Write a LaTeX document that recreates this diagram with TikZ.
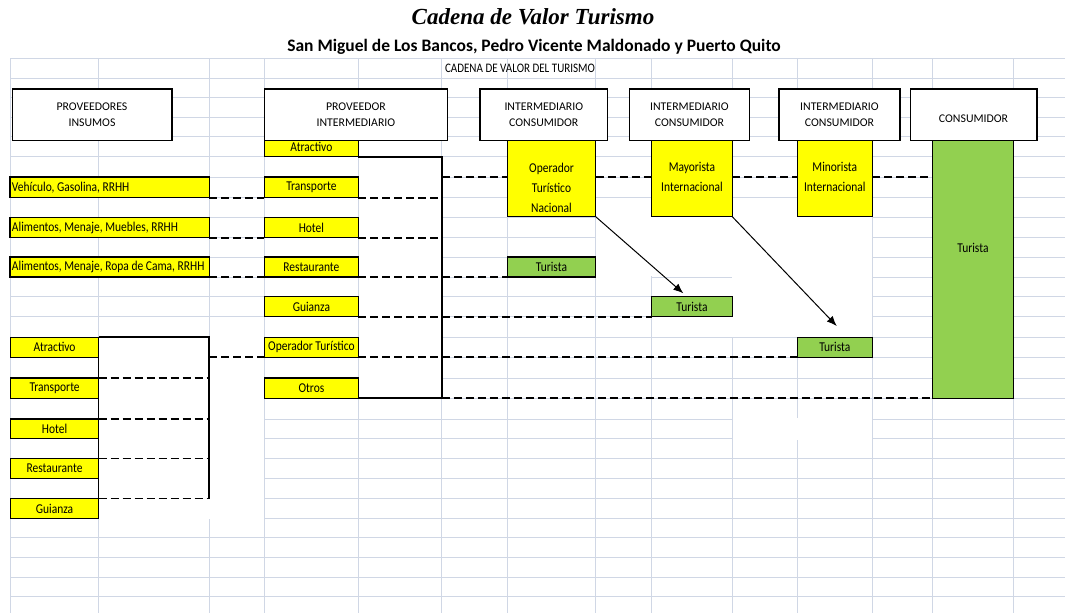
\documentclass[tikz,border=0pt]{standalone}
\usepackage{fontspec}
\setmainfont{Carlito}
\newfontfamily\fuenteCelda{Carlito}[FakeStretch=0.85]
\newfontfamily\fuenteTitulo{Liberation Serif}
\usetikzlibrary{arrows.meta,calc}
\tikzset{>=latex}
\definecolor{gris}{HTML}{D0D7E5}
\definecolor{amarillo}{HTML}{FFFF00}
\definecolor{verde}{HTML}{92D050}
\tikzset{
  cuadro/.style={draw=gris, line width=0.9pt},
  encabezado/.style={draw=black, line width=1.6pt, fill=white, inner sep=0pt, outer sep=0pt, anchor=north west, align=center, font=\fontsize{11.8}{16.5}\selectfont},
  celda/.style={draw=black, line width=1.2pt, fill=amarillo, inner sep=0pt, outer sep=0pt, anchor=north west, align=center, font=\fuenteCelda\fontsize{13.5}{20}\selectfont},
  celdaizq/.style={celda, text width=#1, align=flush left, inner xsep=2pt, font={\fuenteCelda\fontsize{13.5}{20}\selectfont\spaceskip 2.6pt plus 1pt minus 0.5pt\relax}},
  turista/.style={celda, fill=verde},
  texto/.style={inner sep=0pt, align=center, font=\fuenteCelda\fontsize{13.5}{20}\selectfont},
  enlace/.style={line width=1.7pt, dash pattern=on 8pt off 4pt},
  llave/.style={line width=2pt},
  flecha/.style={line width=1pt, -{Latex[length=10pt,width=8pt]}},
}

\begin{document}
\begin{tikzpicture}[x=1pt,y=-1pt]
    % Draw the sheet and its grid
    \fill[white] (0,0) rectangle (1065,613);
    \useasboundingbox (0,0) rectangle (1065,613);
    \foreach \y in {58.3,78.3,97.8,117.2,136.5,156.7,177,197.7,217.7,237.7,257,277,296.7,316.7,337.3,357.3,378,398.3,419,438.7,458.5,478.5,498.5,518.5,537.3,557.3,577.3,596.7}
        \draw[cuadro] (10,\y) -- (1065,\y);
    \foreach \x in {10,98.5,209.4,264.4,358.4,441.7,507.3,595.7,651.6,732.3,797.3,872.4,932.7,1013.3}
        \draw[cuadro] (\x,58.3) -- (\x,613);
    % Blank cells without grid
    \fill[white] (359.2,140) rectangle (441,397.6);
    \fill[white] (99.2,337) rectangle (264,519.3);
    \fill[white] (596.4,217.3) rectangle (731.6,276.4);
    \fill[white] (596.4,276) rectangle (651,296.3);
    \fill[white] (731.6,217.3) rectangle (871.8,336.9);
    \fill[white] (733,418.2) rectangle (871.8,439.5);

    % Titles
    \node[font=\fuenteTitulo\bfseries\itshape\fontsize{23}{28}\selectfont] (titulo) at (533,17) {Cadena de Valor Turismo};
    \node[font=\bfseries\fontsize{17.5}{21}\selectfont] (subtitulo) at (534,47) {San Miguel de Los Bancos, Pedro Vicente Maldonado y Puerto Quito};
    \node[texto, font=\fuenteCelda\fontsize{13}{15}\selectfont] (cadena) at (520,68.5) {CADENA DE VALOR DEL TURISMO};

    % Draw the yellow cells
    \node[celdaizq=195.4pt, minimum height=20.7pt] (vehic) at (10,177) {Vehículo, Gasolina, RRHH};
    \node[celdaizq=195.4pt, minimum height=20pt] (muebl) at (10,217.7) {Alimentos, Menaje, Muebles, RRHH};
    \node[celdaizq=195.4pt, minimum height=20pt] (ropa) at (10,257) {Alimentos, Menaje, Ropa de Cama, RRHH};

    \node[celda, minimum width=94pt, minimum height=20.2pt] (atrM) at (264.4,136.5) {Atractivo};
    \node[celda, minimum width=94pt, minimum height=20.7pt] (traM) at (264.4,177) {Transporte};
    \node[celda, minimum width=94pt, minimum height=20pt] (hotM) at (264.4,217.7) {Hotel};
    \node[celda, minimum width=94pt, minimum height=20pt] (resM) at (264.4,257) {Restaurante};
    \node[celda, minimum width=94pt, minimum height=20pt] (guiM) at (264.4,296.7) {Guianza};
    \node[celda, minimum width=94pt, minimum height=20pt] (opeM) at (264.4,337.3) {Operador Turístico};
    \node[celda, minimum width=94pt, minimum height=20.3pt] (otrM) at (264.4,378) {Otros};

    \node[celda, minimum width=88.2pt, minimum height=20pt] (atrL) at (10.5,337.3) {Atractivo};
    \node[celda, minimum width=88.2pt, minimum height=20.3pt] (traL) at (10.5,378) {Transporte};
    \node[celda, minimum width=88.2pt, minimum height=19.7pt] (hotL) at (10.5,419) {Hotel};
    \node[celda, minimum width=88.2pt, minimum height=20pt] (resL) at (10.5,458.5) {Restaurante};
    \node[celda, minimum width=88.2pt, minimum height=20pt] (guiL) at (10.5,498.5) {Guianza};

    \node[celda, minimum width=88.4pt, minimum height=80.2pt] (opNac) at (507.3,136.5) {};
    \node[texto] (opNacTxt) at (551.5,188) {Operador\\Turístico\\Nacional};
    \node[celda, minimum width=80.7pt, minimum height=80.2pt] (mayor) at (651.6,136.5) {Mayorista\\Internacional};
    \node[celda, minimum width=75pt, minimum height=80.2pt] (minor) at (797.3,136.5) {Minorista\\Internacional};

    % Draw the green cells
    \node[turista, minimum width=88.4pt, minimum height=20pt] (tur1) at (507.3,257) {Turista};
    \node[turista, minimum width=80.7pt, minimum height=20pt] (tur2) at (651.6,296.7) {Turista};
    \node[turista, minimum width=75pt, minimum height=20pt] (tur3) at (797.3,337.3) {Turista};
    \node[turista, minimum width=80.6pt, minimum height=261.8pt] (turG) at (932.7,136.5) {};
    \node[texto] (turGTxt) at (973,248.3) {Turista};

    % Draw the header boxes
    \node[encabezado, minimum width=159.4pt, minimum height=51.5pt] (provIns) at (12.3,89) {PROVEEDORES\\INSUMOS};
    \node[encabezado, minimum width=183.2pt, minimum height=51.5pt] (provInt) at (264.3,89) {PROVEEDOR\\INTERMEDIARIO};
    \node[encabezado, minimum width=127.2pt, minimum height=51.5pt] (interA) at (480.2,89) {INTERMEDIARIO\\CONSUMIDOR};
    \node[encabezado, minimum width=120.3pt, minimum height=51.5pt] (interB) at (629.3,89) {INTERMEDIARIO\\CONSUMIDOR};
    \node[encabezado, minimum width=120.7pt, minimum height=51.5pt] (interC) at (779.1,89) {INTERMEDIARIO\\CONSUMIDOR};
    \node[encabezado, minimum width=126.3pt, minimum height=51.5pt] (consum) at (910.4,89) {\mbox{}\\CONSUMIDOR};

    % Brackets
    \coordinate (llaveM) at (441.7,0);
    \coordinate (llaveL) at (209.4,0);
    \coordinate (filaOp) at (0,177);
    \draw[llave] (atrM.south east) -- (atrM.south east -| llaveM) -- (otrM.south east -| llaveM) -- (otrM.south east);
    \draw[llave] (atrL.north east) -- (atrL.north east -| llaveL) -- (guiL.north east -| llaveL);
    \draw[line width=1pt] (atrL.north east) -- (guiL.north east);

    % Dashed links
    \draw[enlace] (vehic.south east) -- (traM.south west);
    \draw[enlace] (muebl.south east) -- (hotM.south west);
    \draw[enlace] (ropa.south east) -- (resM.south west);
    \draw[enlace] (traM.south east) -- (traM.south east -| llaveM);
    \draw[enlace] (hotM.south east) -- (hotM.south east -| llaveM);
    \draw[enlace] (resM.south east) -- (resM.south east -| tur1.west);
    \draw[enlace] (guiM.south east) -- (tur2.south west);
    \draw[enlace] (opeM.south east) -- (tur3.south west);
    \draw[enlace] (otrM.south east -| llaveM) -- (otrM.south east -| turG.west);
    \draw[enlace] (filaOp -| llaveM) -- (filaOp -| opNac.west);
    \draw[enlace] (filaOp -| opNac.east) -- (filaOp -| mayor.west);
    \draw[enlace] (filaOp -| mayor.east) -- (filaOp -| minor.west);
    \draw[enlace] (filaOp -| minor.east) -- (filaOp -| turG.west);
    \draw[enlace] (traL.north east) -- (traL.north east -| llaveL);
    \draw[enlace] (hotL.north east) -- (hotL.north east -| llaveL);
    \draw[enlace] (resL.north east) -- (resL.north east -| llaveL);
    \draw[enlace] (guiL.north east) -- (guiL.north east -| llaveL);
    \draw[enlace] (opeM.south west -| llaveL) -- (opeM.south west);

    % Arrows to the tourists
    \coordinate (punta1) at (683.3,293.3);
    \coordinate (punta2) at (836.7,326);
    \draw[flecha] (opNac.south east) -- (punta1);
    \draw[flecha] (mayor.south east) -- (punta2);
\end{tikzpicture}
\end{document}
